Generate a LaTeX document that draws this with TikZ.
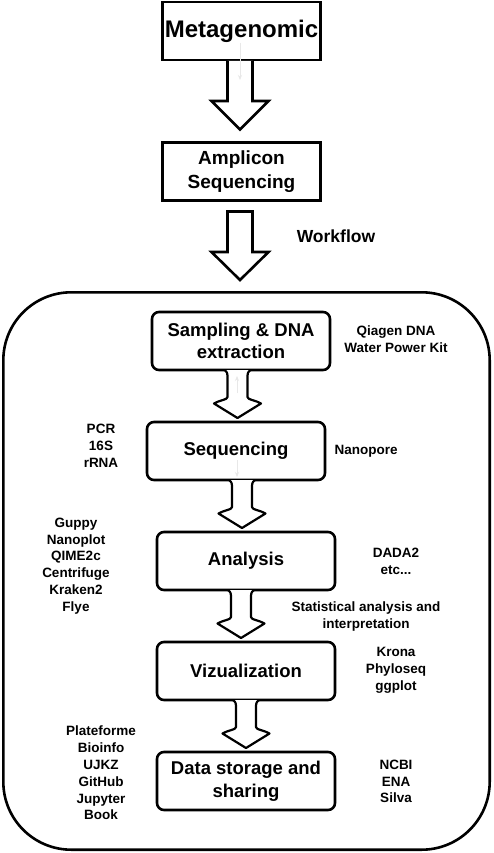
\documentclass[tikz,border=0pt]{standalone}
\usepackage{fontspec}
\setmainfont{Liberation Sans}
\usetikzlibrary{arrows.meta}
\begin{document}
\begin{tikzpicture}[x=1pt,y=-1pt,
  sqbox/.style={draw, line width=2.6pt, fill=white, minimum width=158pt, minimum height=58pt, inner sep=0pt, align=center, font=\bfseries\fontsize{19}{24}\selectfont},
  rbox/.style={draw, line width=2.6pt, fill=white, rounded corners=7pt, minimum width=178pt, minimum height=58pt, inner sep=0pt, align=center, font=\bfseries\fontsize{18.5}{22.5}\selectfont},
  note/.style={align=center, inner sep=0pt, font=\bfseries\fontsize{13.5}{16.8}\selectfont},
  blockarrow/.style={draw=black, line width=2.6pt, fill=white, line join=miter},
  softarrow/.style={draw=black, line width=2.2pt, fill=white, line join=round},
  faint/.style={draw=gray!18, line width=0.8pt, -{Stealth[length=5pt,width=4pt]}}
]
\useasboundingbox (0,0) rectangle (493,853);
\fill[white] (0,0) rectangle (493,853);

% big rounded frame
\draw[line width=2.6pt, rounded corners=68pt] (3.3,292.3) rectangle (489.7,849.7);

% top boxes
\node[sqbox, font=\bfseries\fontsize{24}{28}\selectfont] (meta) at (241.5,31) {Metagenomic};
\node[sqbox] (amp) at (241.5,171.5) {Amplicon\\Sequencing};

% block arrows
\path[blockarrow] (227.5,61) -- (227.5,101) -- (211.5,101) -- (240,129.5) -- (268.5,101) -- (252.5,101) -- (252.5,61);
\path[blockarrow] (227.5,211.5) -- (227.5,252) -- (211.5,252) -- (240,280) -- (268.5,252) -- (252.5,252) -- (252.5,211.5) -- cycle;
\coordinate (f1) at (240,43);
\coordinate (f2) at (240,80);
\draw[faint] (f1) -- (f2);

\node[font=\bfseries\fontsize{17.5}{20}\selectfont, inner sep=0pt] (wf) at (336,236) {Workflow};

% workflow boxes
\node[rbox] (samp) at (241,341) {Sampling \& DNA\\extraction};
\node[rbox] (seq) at (236,451) {Sequencing};
\node[rbox] (ana) at (246,561) {Analysis};
\node[rbox] (viz) at (246,671) {Vizualization};
\node[rbox] (data) at (246,781) {Data storage and\\sharing};

% curved block arrows between boxes
\foreach \cx/\cy in {237.5/371, 242/481, 241/591, 246/701}{
  \path[softarrow, shift={(\cx pt,-\cy pt)}]
    (-13,-1) .. controls (-10,1) and (-10,3) .. (-10,7) -- (-10,26)
    .. controls (-10,29) and (-18,29) .. (-23.5,32.5) -- (0,47) -- (23.5,32.5)
    .. controls (18,29) and (10,29) .. (10,26) -- (10,7)
    .. controls (10,3) and (10,1) .. (13,-1);
}

% faint hidden connectors
\coordinate (g1) at (237,393);
\coordinate (g2) at (237,376);
\draw[faint] (g1) -- (g2);
\coordinate (g3) at (237,460);
\coordinate (g4) at (237,477);
\draw[faint] (g3) -- (g4);

% notes
\node[note] (qiagen) at (396,339) {Qiagen DNA\\Water Power Kit};
\node[note] (pcr) at (101,446) {PCR\\16S\\rRNA};
\node[note] (nano) at (366,451) {Nanopore};
\node[note] (tools) at (76,566) {Guppy\\Nanoplot\\QIME2c\\Centrifuge\\Kraken2\\Flye};
\node[note] (dada) at (396,561.5) {DADA2\\etc...};
\node[note] (stat) at (366,616.5) {Statistical analysis and\\interpretation};
\node[note] (krona) at (396,670.5) {Krona\\Phyloseq\\ggplot};
\node[note] (plat) at (101,773) {Plateforme\\Bioinfo\\UJKZ\\GitHub\\Jupyter\\Book};
\node[note] (ncbi) at (396,781.5) {NCBI\\ENA\\Silva};
\end{tikzpicture}
\end{document}
